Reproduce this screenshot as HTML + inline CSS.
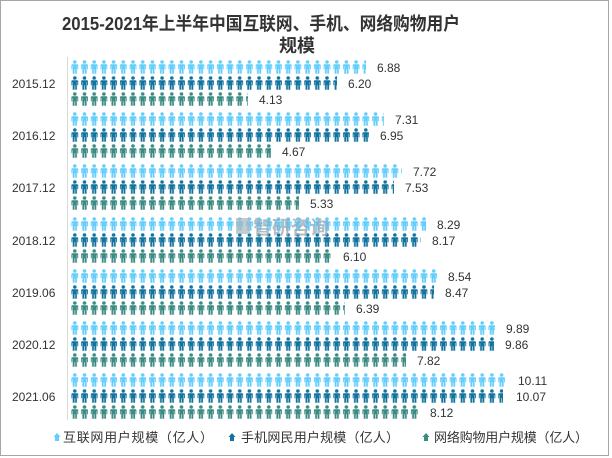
<!DOCTYPE html>
<html><head><meta charset="utf-8"><style>
html,body{margin:0;padding:0;background:#fff;}
svg{display:block;font-family:"Liberation Sans","Noto Sans CJK SC",sans-serif;}
</style></head><body>
<svg width="612" height="458" viewBox="0 0 612 458" xmlns="http://www.w3.org/2000/svg">
<defs>
<pattern id="pa" x="70" y="0" width="9.7" height="14" patternUnits="userSpaceOnUse"><g fill="#63cdfb"><circle cx="4.8" cy="2" r="1.8"/><path d="M2.3 4.3 H7.3 Q8.2 4.3 8.2 5.3 V9.2 H7.3 V6 H6.9 V13.8 H5.1 V9.3 H4.5 V13.8 H2.7 V6 H2.3 V9.2 H1.4 V5.3 Q1.4 4.3 2.3 4.3 Z"/></g></pattern>
<pattern id="pb" x="70" y="0" width="9.7" height="14" patternUnits="userSpaceOnUse"><g fill="#13739f"><circle cx="4.8" cy="2" r="1.8"/><path d="M2.3 4.3 H7.3 Q8.2 4.3 8.2 5.3 V9.2 H7.3 V6 H6.9 V13.8 H5.1 V9.3 H4.5 V13.8 H2.7 V6 H2.3 V9.2 H1.4 V5.3 Q1.4 4.3 2.3 4.3 Z"/></g></pattern>
<pattern id="pc" x="70" y="0" width="9.7" height="14" patternUnits="userSpaceOnUse"><g fill="#3b8b83"><circle cx="4.8" cy="2" r="1.8"/><path d="M2.3 4.3 H7.3 Q8.2 4.3 8.2 5.3 V9.2 H7.3 V6 H6.9 V13.8 H5.1 V9.3 H4.5 V13.8 H2.7 V6 H2.3 V9.2 H1.4 V5.3 Q1.4 4.3 2.3 4.3 Z"/></g></pattern>
</defs>
<rect x="0.5" y="0.5" width="608" height="455" fill="#fff" stroke="#a6a6a6"/>
<text x="62" y="30" font-size="18" font-weight="bold" fill="#333" textLength="398" lengthAdjust="spacingAndGlyphs">2015-2021年上半年中国互联网、手机、网络购物用户</text>
<text x="279" y="52" font-size="18" font-weight="bold" fill="#333">规模</text>
<line x1="67.5" y1="57" x2="67.5" y2="420" stroke="#d9d9d9"/>
<g font-size="12" fill="#333">
<text x="12" y="88">2015.12</text>
<text x="12" y="140">2016.12</text>
<text x="12" y="192">2017.12</text>
<text x="12" y="245">2018.12</text>
<text x="12" y="297">2019.06</text>
<text x="12" y="349">2020.12</text>
<text x="12" y="401">2021.06</text>
</g>
<g>
<rect transform="translate(0,60)" x="70" y="0" width="296" height="14" fill="url(#pa)"/>
<rect transform="translate(0,76)" x="70" y="0" width="267" height="14" fill="url(#pb)"/>
<rect transform="translate(0,92)" x="70" y="0" width="178" height="14" fill="url(#pc)"/>
<rect transform="translate(0,112)" x="70" y="0" width="314" height="14" fill="url(#pa)"/>
<rect transform="translate(0,128)" x="70" y="0" width="299" height="14" fill="url(#pb)"/>
<rect transform="translate(0,144)" x="70" y="0" width="201" height="14" fill="url(#pc)"/>
<rect transform="translate(0,164)" x="70" y="0" width="332" height="14" fill="url(#pa)"/>
<rect transform="translate(0,180)" x="70" y="0" width="324" height="14" fill="url(#pb)"/>
<rect transform="translate(0,196)" x="70" y="0" width="229" height="14" fill="url(#pc)"/>
<rect transform="translate(0,217)" x="70" y="0" width="356" height="14" fill="url(#pa)"/>
<rect transform="translate(0,233)" x="70" y="0" width="351" height="14" fill="url(#pb)"/>
<rect transform="translate(0,249)" x="70" y="0" width="262" height="14" fill="url(#pc)"/>
<rect transform="translate(0,269)" x="70" y="0" width="367" height="14" fill="url(#pa)"/>
<rect transform="translate(0,285)" x="70" y="0" width="364" height="14" fill="url(#pb)"/>
<rect transform="translate(0,301)" x="70" y="0" width="275" height="14" fill="url(#pc)"/>
<rect transform="translate(0,321)" x="70" y="0" width="425" height="14" fill="url(#pa)"/>
<rect transform="translate(0,337)" x="70" y="0" width="424" height="14" fill="url(#pb)"/>
<rect transform="translate(0,353)" x="70" y="0" width="336" height="14" fill="url(#pc)"/>
<rect transform="translate(0,373)" x="70" y="0" width="435" height="14" fill="url(#pa)"/>
<rect transform="translate(0,389)" x="70" y="0" width="433" height="14" fill="url(#pb)"/>
<rect transform="translate(0,405)" x="70" y="0" width="349" height="14" fill="url(#pc)"/>
</g>
<g font-size="12" fill="#333">
<text x="377" y="72">6.88</text><text x="348" y="88">6.20</text><text x="259" y="104">4.13</text>
<text x="395" y="124">7.31</text><text x="380" y="140">6.95</text><text x="282" y="156">4.67</text>
<text x="413" y="176">7.72</text><text x="405" y="192">7.53</text><text x="310" y="208">5.33</text>
<text x="437" y="229">8.29</text><text x="432" y="245">8.17</text><text x="343" y="261">6.10</text>
<text x="448" y="281">8.54</text><text x="445" y="297">8.47</text><text x="356" y="313">6.39</text>
<text x="506" y="333">9.89</text><text x="505" y="349">9.86</text><text x="417" y="365">7.82</text>
<text x="518" y="385">10.11</text><text x="516" y="401">10.07</text><text x="430" y="417">8.12</text>
</g>
<rect x="236" y="218" width="14" height="16" fill="#aab6be" opacity="0.7"/>
<text x="253" y="234" font-size="19" font-weight="bold" fill="#9aa8b2" opacity="0.75">智研咨询</text>
<g font-size="13" fill="#333">
<path d="M55 441 L55 437 L53.5 437 L57 433 L60.5 437 L59 437 L59 441 Z" fill="#63cdfb"/>
<text x="63" y="442" textLength="150" lengthAdjust="spacing">互联网用户规模（亿人）</text>
<path d="M230 441 L230 437 L228.5 437 L232 433 L235.5 437 L234 437 L234 441 Z" fill="#13739f"/>
<text x="241" y="442" textLength="158" lengthAdjust="spacing">手机网民用户规模（亿人）</text>
<path d="M424 441 L424 437 L422.5 437 L426 433 L429.5 437 L428 437 L428 441 Z" fill="#3b8b83"/>
<text x="434" y="442" textLength="154" lengthAdjust="spacing">网络购物用户规模（亿人）</text>
</g>
</svg>
</body></html>
